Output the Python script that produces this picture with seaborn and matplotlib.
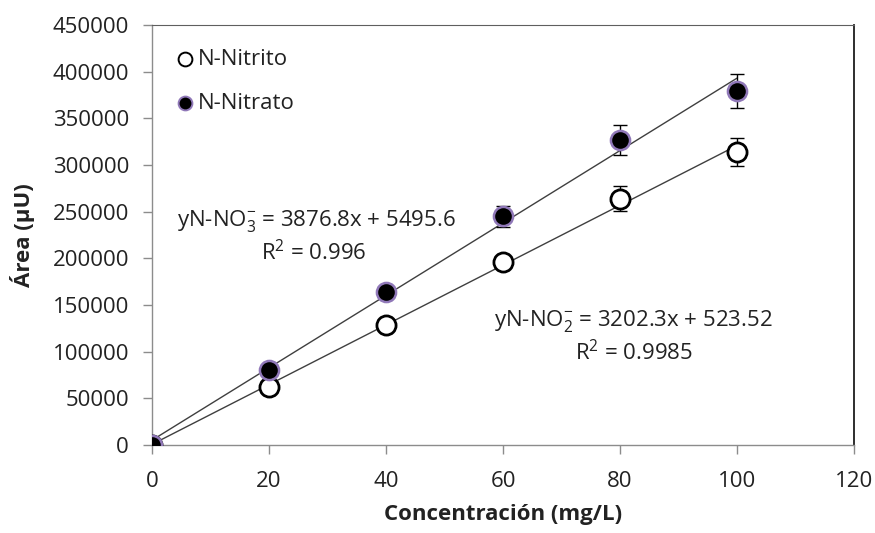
import numpy as np
import pandas as pd
import matplotlib
matplotlib.use("Agg")
import matplotlib.pyplot as plt
import seaborn as sns

# ---- data ----
conc = [0, 20, 40, 60, 80, 100]
nitrito = [0, 62000, 128500, 196500, 264000, 313500]
nitrito_err = [2000, 3000, 3000, 4000, 13000, 15000]
nitrato = [0, 80000, 164000, 245000, 326500, 379000]
nitrato_err = [2000, 3000, 5000, 11000, 16000, 18000]
series_labels = ["N-Nitrito", "N-Nitrato"]
eq_nitrato = ["yN-NO$_3^{-}$ = 3876.8x + 5495.6", "R$^2$ = 0.996"]
eq_nitrito = ["yN-NO$_2^{-}$ = 3202.3x + 523.52", "R$^2$ = 0.9985"]
xticks = [0, 20, 40, 60, 80, 100, 120]
yticks = [0, 50000, 100000, 150000, 200000, 250000, 300000, 350000, 400000, 450000]

df = pd.DataFrame({"conc": conc, "nitrito": nitrito, "nitrato": nitrato})

sns.set_style("ticks")
plt.rcParams["font.family"] = ["Open Sans", "DejaVu Sans"]
plt.rcParams["mathtext.fontset"] = "custom"
plt.rcParams["mathtext.rm"] = "Open Sans"
plt.rcParams["mathtext.it"] = "Open Sans:italic"
plt.rcParams["mathtext.bf"] = "Open Sans:bold"

FS = 16
TXT = "#222222"

fig = plt.figure(figsize=(8.75, 5.33), dpi=100)
ax = fig.add_axes([152/875, 1-445/533, (854-152)/875, (445-25)/533])

line_color = "#3f3f3f"
sns.regplot(data=df, x="conc", y="nitrato", ax=ax, ci=None, scatter=False,
            line_kws=dict(color=line_color, lw=1.0, zorder=2))
sns.regplot(data=df, x="conc", y="nitrito", ax=ax, ci=None, scatter=False,
            line_kws=dict(color=line_color, lw=1.0, zorder=2))

ax.errorbar(conc, nitrito, yerr=nitrito_err, fmt="none", ecolor="black",
            elinewidth=1.0, capsize=5, capthick=1.0, zorder=3)
ax.errorbar(conc, nitrato, yerr=nitrato_err, fmt="none", ecolor="black",
            elinewidth=1.0, capsize=5, capthick=1.0, zorder=3)

sns.scatterplot(x=conc, y=nitrito, ax=ax, marker="o", s=190, facecolor="white",
                edgecolor="black", linewidth=2.0, zorder=4, label=series_labels[0])
sns.scatterplot(x=conc, y=nitrato, ax=ax, marker="o", s=190, facecolor="black",
                edgecolor="#9078b8", linewidth=1.8, zorder=5, label=series_labels[1])

ax.set_xlim(0, 120)
ax.set_ylim(0, 450000)
ax.set_xticks(xticks)
ax.set_yticks(yticks)
ax.set_xticklabels([str(v) for v in xticks])
ax.set_yticklabels([str(v) for v in yticks])

ax.spines["top"].set_color("#5f5f5f")
ax.spines["right"].set_color("#1e1e1e")
ax.spines["right"].set_linewidth(1.3)
for s in ["left", "bottom"]:
    ax.spines[s].set_color("#8c8c8c")
    ax.spines[s].set_linewidth(1.0)
ax.tick_params(axis="both", colors="#8c8c8c", labelcolor=TXT,
               labelsize=FS, length=6.5, width=1.0, direction="out")
ax.tick_params(axis="y", pad=10)
ax.tick_params(axis="x", pad=12)

ax.set_xlabel("Concentración (mg/L)", fontsize=FS, fontweight="bold",
              color=TXT, labelpad=9)
ax.set_ylabel("Área (µU)", fontsize=FS, fontweight="bold",
              color=TXT, labelpad=13)

leg = ax.legend(loc="upper left", bbox_to_anchor=(0.01, 0.975), frameon=False,
                fontsize=FS, labelspacing=1.05, handletextpad=0.05,
                markerscale=0.72, handlelength=1.1, borderaxespad=0.2)
for t in leg.get_texts():
    t.set_color(TXT)
for h in leg.legend_handles:
    try:
        h.set_linewidth(1.4)
    except Exception:
        pass

ax.text(28.1, 240000, eq_nitrato[0], ha="center", va="center", fontsize=FS, color=TXT)
ax.text(27.7, 206000, eq_nitrato[1], ha="center", va="center", fontsize=FS, color=TXT)
ax.text(82.2, 133000, eq_nitrito[0], ha="center", va="center", fontsize=FS, color=TXT)
ax.text(82.4, 99500, eq_nitrito[1], ha="center", va="center", fontsize=FS, color=TXT)

fig.savefig("out.png", dpi=100)
